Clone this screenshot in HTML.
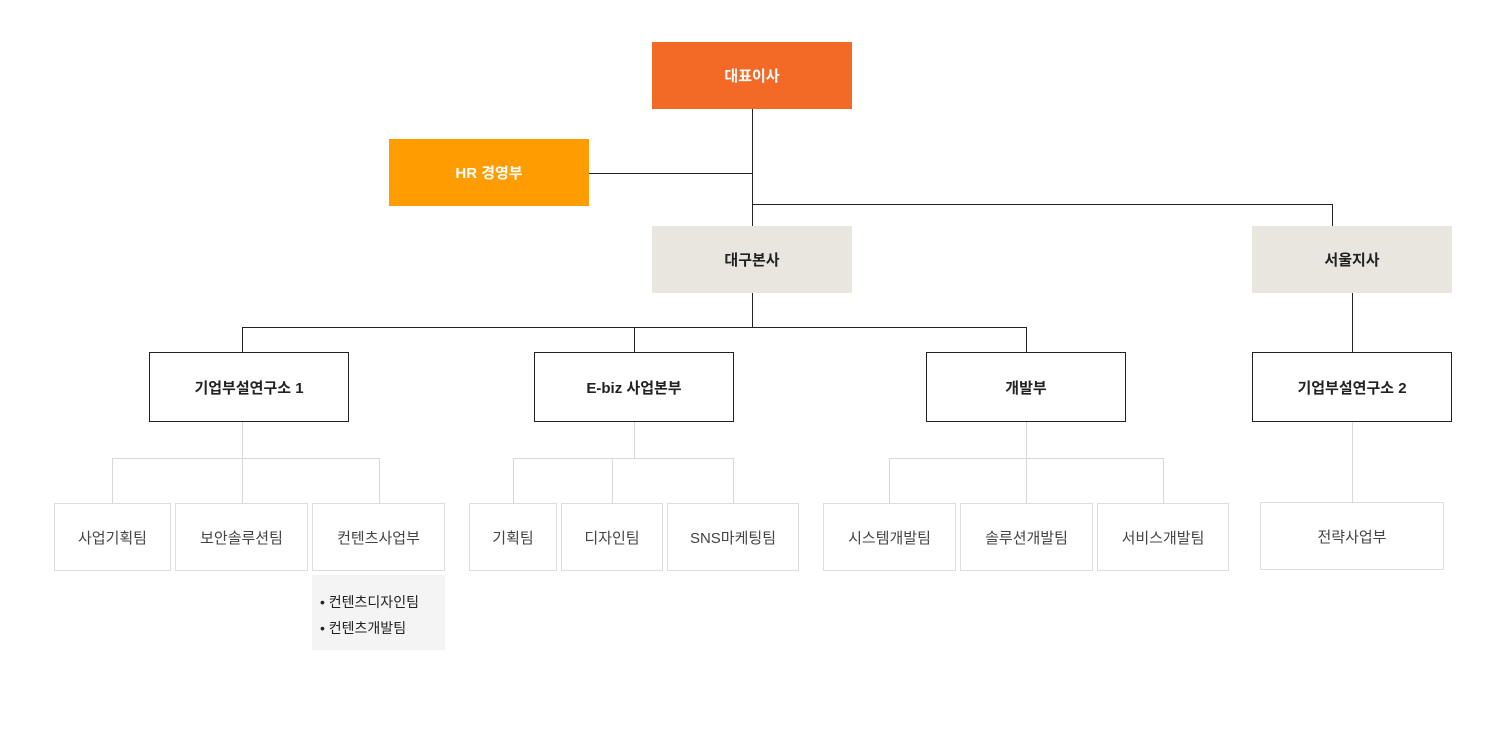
<!DOCTYPE html>
<html><head><meta charset="utf-8"><style>
body{margin:0;width:1498px;height:730px;background:#fff;position:relative;overflow:hidden;font-family:"Liberation Sans","Noto Sans CJK KR",sans-serif;}
.b{position:absolute;display:flex;align-items:center;justify-content:center;box-sizing:border-box;font-size:15px;color:#222;}
.l{position:absolute;background:#222;}
.g{position:absolute;background:#d8d8d8;}
.t{border:1px solid #ddd;color:#444;font-size:15px;}
.m{border:1px solid #222;font-weight:bold;}
</style></head><body>
<!-- lines -->
<div class="l" style="left:752px;top:109px;width:1px;height:117px"></div>
<div class="l" style="left:589px;top:173px;width:163px;height:1px"></div>
<div class="l" style="left:752px;top:204px;width:581px;height:1px"></div>
<div class="l" style="left:1332px;top:204px;width:1px;height:22px"></div>
<div class="l" style="left:752px;top:293px;width:1px;height:34px"></div>
<div class="l" style="left:242px;top:327px;width:785px;height:1px"></div>
<div class="l" style="left:242px;top:327px;width:1px;height:25px"></div>
<div class="l" style="left:634px;top:327px;width:1px;height:25px"></div>
<div class="l" style="left:1026px;top:327px;width:1px;height:25px"></div>
<div class="l" style="left:1352px;top:293px;width:1px;height:59px"></div>
<!-- gray lines -->
<div class="g" style="left:242px;top:421px;width:1px;height:37px"></div>
<div class="g" style="left:112px;top:458px;width:268px;height:1px"></div>
<div class="g" style="left:112px;top:458px;width:1px;height:45px"></div>
<div class="g" style="left:242px;top:458px;width:1px;height:45px"></div>
<div class="g" style="left:379px;top:458px;width:1px;height:45px"></div>
<div class="g" style="left:634px;top:421px;width:1px;height:37px"></div>
<div class="g" style="left:513px;top:458px;width:221px;height:1px"></div>
<div class="g" style="left:513px;top:458px;width:1px;height:45px"></div>
<div class="g" style="left:612px;top:458px;width:1px;height:45px"></div>
<div class="g" style="left:733px;top:458px;width:1px;height:45px"></div>
<div class="g" style="left:1026px;top:421px;width:1px;height:37px"></div>
<div class="g" style="left:889px;top:458px;width:275px;height:1px"></div>
<div class="g" style="left:889px;top:458px;width:1px;height:45px"></div>
<div class="g" style="left:1026px;top:458px;width:1px;height:45px"></div>
<div class="g" style="left:1163px;top:458px;width:1px;height:45px"></div>
<div class="g" style="left:1352px;top:421px;width:1px;height:81px"></div>
<!-- boxes -->
<div class="b" style="left:652px;top:42px;width:200px;height:67px;background:#f26a25;color:#fff;font-weight:bold">대표이사</div>
<div class="b" style="left:389px;top:139px;width:200px;height:67px;background:#ff9c00;color:#fff;font-weight:bold">HR 경영부</div>
<div class="b" style="left:652px;top:226px;width:200px;height:67px;background:#e9e5df;font-weight:bold">대구본사</div>
<div class="b" style="left:1252px;top:226px;width:200px;height:67px;background:#e9e5df;font-weight:bold">서울지사</div>
<div class="b m" style="left:149px;top:352px;width:200px;height:70px;background:#fff">기업부설연구소 1</div>
<div class="b m" style="left:534px;top:352px;width:200px;height:70px;background:#fff">E-biz 사업본부</div>
<div class="b m" style="left:926px;top:352px;width:200px;height:70px;background:#fff">개발부</div>
<div class="b m" style="left:1252px;top:352px;width:200px;height:70px;background:#fff">기업부설연구소 2</div>
<div class="b t" style="left:54px;top:503px;width:117px;height:68px">사업기획팀</div>
<div class="b t" style="left:175px;top:503px;width:133px;height:68px">보안솔루션팀</div>
<div class="b t" style="left:312px;top:503px;width:133px;height:68px">컨텐츠사업부</div>
<div class="b t" style="left:469px;top:503px;width:88px;height:68px">기획팀</div>
<div class="b t" style="left:561px;top:503px;width:102px;height:68px">디자인팀</div>
<div class="b t" style="left:667px;top:503px;width:132px;height:68px">SNS마케팅팀</div>
<div class="b t" style="left:823px;top:503px;width:133px;height:68px">시스템개발팀</div>
<div class="b t" style="left:960px;top:503px;width:133px;height:68px">솔루션개발팀</div>
<div class="b t" style="left:1097px;top:503px;width:132px;height:68px">서비스개발팀</div>
<div class="b t" style="left:1260px;top:502px;width:184px;height:68px">전략사업부</div>
<div style="position:absolute;left:312px;top:575px;width:133px;height:75px;background:#f4f4f4;box-sizing:border-box;padding:14px 0 0 8px;font-size:14px;color:#222;line-height:27px">
<div>• 컨텐츠디자인팀</div><div style="margin-top:-1px">• 컨텐츠개발팀</div></div>
</body></html>
